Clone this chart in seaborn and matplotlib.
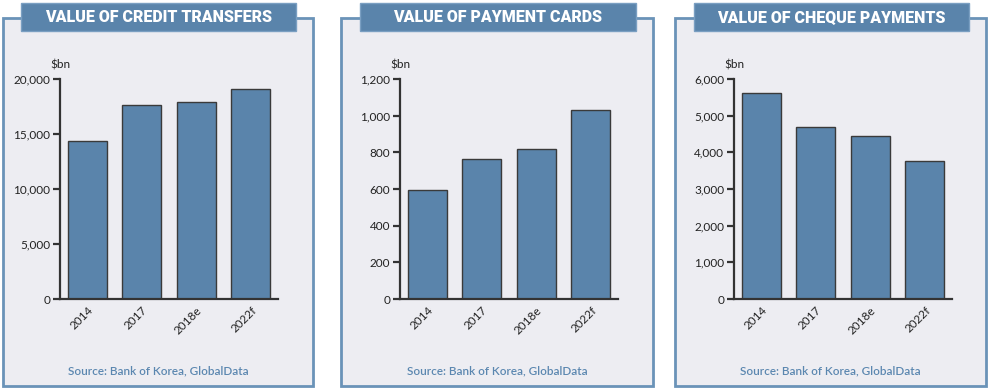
import matplotlib
matplotlib.use("Agg")
import matplotlib.pyplot as plt
import seaborn as sns
from matplotlib.patches import Rectangle

years = ["2014", "2017", "2018e", "2022f"]
credit_transfers = [14400, 17600, 17950, 19050]
payment_cards = [592, 762, 816, 1030]
cheque_payments = [5620, 4690, 4445, 3765]

titles = ["VALUE OF CREDIT TRANSFERS", "VALUE OF PAYMENT CARDS", "VALUE OF CHEQUE PAYMENTS"]
series = [credit_transfers, payment_cards, cheque_payments]
ymax = [20000, 1200, 6000]
ystep = [5000, 200, 1000]
source = "Source: Bank of Korea, GlobalData"

W, H = 989, 392
blue = "#5a84ab"
panel_bg = "#ededf2"
dark = "#333333"

sns.set_style("white")
plt.rcParams["font.family"] = ["Lato", "DejaVu Sans"]

fig = plt.figure(figsize=(W / 100, H / 100), dpi=100)
fig.patch.set_facecolor("white")

# panel boxes, banners and axes in pixel coords
boxes = [(3, 313), (341, 653), (675, 986)]
banners = [(21, 296), (360, 636), (694, 969)]
axes_x = [(60, 278), (400, 618), (734, 952)]


def fx(px):
    return px / W


def fy(py):
    return 1 - py / H


for i in range(3):
    bx0, bx1 = boxes[i]
    fig.patches.append(Rectangle((fx(bx0), fy(386)), fx(bx1 - bx0), (386 - 18) / H,
                                 transform=fig.transFigure, facecolor=panel_bg,
                                 edgecolor="#6a93b8", linewidth=2, zorder=-2))
    nx0, nx1 = banners[i]
    fig.patches.append(Rectangle((fx(nx0), fy(31)), fx(nx1 - nx0), 28 / H,
                                 transform=fig.transFigure, facecolor=blue,
                                 edgecolor="#7a9fc2", linewidth=1, zorder=-1))
    fig.text(fx((nx0 + nx1) / 2), fy(17.5), titles[i], ha="center", va="center",
             color="white", fontsize=11.5, fontweight="heavy",
             family=["Roboto", "DejaVu Sans"], zorder=2)
    fig.text(fx((bx0 + bx1) / 2), fy(371), source, ha="center", va="center",
             color="#5b87b0", fontsize=8.5, fontweight="semibold", zorder=2)

    ax0, ax1 = axes_x[i]
    ax = fig.add_axes([fx(ax0), fy(299), fx(ax1 - ax0), (299 - 79) / H])
    ax.set_facecolor("none")
    sns.barplot(x=years, y=series[i], color=blue, saturation=1, width=0.72,
                edgecolor="#3a3a3a", linewidth=1, ax=ax)
    ax.set_xlim(-0.5, 3.5)
    ax.set_ylim(0, ymax[i])
    ax.set_yticks(range(0, ymax[i] + 1, ystep[i]))
    ax.set_yticklabels([f"{v:,}" for v in range(0, ymax[i] + 1, ystep[i])])
    sns.despine(ax=ax)
    for s in ["left", "bottom"]:
        ax.spines[s].set_color(dark)
        ax.spines[s].set_linewidth(1.6)
    ax.tick_params(axis="y", length=5, width=1.6, color=dark, labelsize=8.5,
                   labelcolor="#222222", pad=2, left=True)
    ax.tick_params(axis="x", length=0, labelsize=8.5, labelcolor="#222222", pad=4)
    for lab in ax.get_xticklabels():
        lab.set_rotation(45)
        lab.set_ha("right")
        lab.set_rotation_mode("anchor")
    ax.text(0, 1.04, "$bn", transform=ax.transAxes, ha="center", va="bottom",
            fontsize=8.5, color="#222222")

fig.savefig("out.png", dpi=100)
